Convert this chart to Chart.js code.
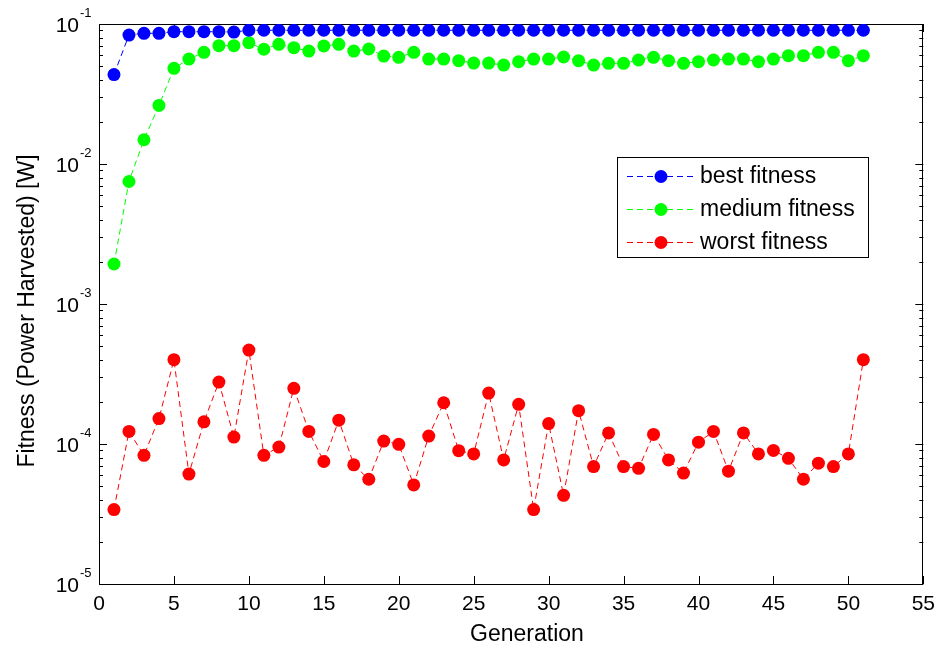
<!DOCTYPE html>
<html>
<head>
<meta charset="utf-8">
<script src="https://cdn.jsdelivr.net/npm/chart.js@4.4.1/dist/chart.umd.min.js"></script>
<style>
html,body{margin:0;padding:0;background:#ffffff;}
#wrap{width:943px;height:645px;position:relative;}
</style>
</head>
<body>
<div id="wrap"><canvas id="c" width="943" height="645"></canvas></div>
<script>
// ---------------- data ----------------
const generations = [1,2,3,4,5,6,7,8,9,10,11,12,13,14,15,16,17,18,19,20,21,22,23,24,25,26,27,28,29,30,31,32,33,34,35,36,37,38,39,40,41,42,43,44,45,46,47,48,49,50,51];
const bestFitness = [0.0435,0.0834,0.0858,0.0858,0.0881,0.0881,0.0881,0.0881,0.0875,0.0902,
  0.0902,0.0902,0.0902,0.0902,0.0902,0.0902,0.0902,0.0902,0.0902,0.0902,
  0.0902,0.0902,0.0902,0.0902,0.0902,0.0902,0.0902,0.0902,0.0902,0.0902,
  0.0902,0.0902,0.0902,0.0902,0.0902,0.0902,0.0902,0.0902,0.0902,0.0902,
  0.0902,0.0902,0.0902,0.0902,0.0902,0.0902,0.0902,0.0902,0.0902,0.0902,
  0.0902];
const mediumFitness = [0.00193,0.00750,0.0149,0.0262,0.0482,0.0562,0.0628,0.0700,0.0700,0.0736,
  0.0660,0.0716,0.0677,0.0641,0.0697,0.0716,0.0641,0.0663,0.0590,0.0578,
  0.0628,0.0562,0.0562,0.0547,0.0526,0.0526,0.0509,0.0538,0.0562,0.0562,
  0.0581,0.0547,0.0509,0.0524,0.0524,0.0553,0.0578,0.0547,0.0524,0.0538,
  0.0553,0.0562,0.0562,0.0538,0.0562,0.0594,0.0594,0.0628,0.0628,0.0547,
  0.0594];
const worstFitness = [3.4e-5,1.23e-4,8.3e-5,1.52e-4,4.0e-4,6.1e-5,1.44e-4,2.77e-4,1.12e-4,4.69e-4,
  8.3e-5,9.5e-5,2.5e-4,1.23e-4,7.5e-5,1.48e-4,7.1e-5,5.6e-5,1.05e-4,9.95e-5,
  5.1e-5,1.14e-4,1.97e-4,8.96e-5,8.5e-5,2.31e-4,7.7e-5,1.92e-4,3.4e-5,1.4e-4,
  4.3e-5,1.73e-4,6.9e-5,1.2e-4,6.9e-5,6.7e-5,1.17e-4,7.7e-5,6.2e-5,1.03e-4,
  1.23e-4,6.4e-5,1.2e-4,8.5e-5,9.0e-5,7.9e-5,5.6e-5,7.3e-5,6.9e-5,8.5e-5,
  4.0e-4];
const seriesNames = ['best fitness','medium fitness','worst fitness'];
const seriesColors = ['#0000ff','#00ff00','#ff0000'];
const xTicks = [0,5,10,15,20,25,30,35,40,45,50,55];
const yDecadeExponents = [-5,-4,-3,-2,-1];
const xTitle = 'Generation';
const yTitle = 'Fitness (Power Harvested) [W]';

// ---------------- chart ----------------
const FONT = "'Liberation Sans', Arial, Helvetica, sans-serif";
Chart.defaults.font.family = FONT;
Chart.defaults.color = '#000';

const toPoints = vals => vals.map((v,i) => ({x: generations[i], y: v}));
const allSeries = [bestFitness, mediumFitness, worstFitness];

const datasets = allSeries.map((vals, i) => ({
  label: seriesNames[i],
  data: toPoints(vals),
  borderColor: seriesColors[i],
  backgroundColor: seriesColors[i],
  borderWidth: 1,
  borderDash: [6,4],
  pointRadius: 6.5,
  pointHoverRadius: 6.5,
  pointBorderWidth: 0,
  pointBackgroundColor: seriesColors[i],
  tension: 0,
  fill: false
}));

const framePlugin = {
  id: 'matlabFrame',
  beforeDatasetsDraw(chart) {
    const {ctx, chartArea: a, scales: {x, y}} = chart;
    ctx.save();
    ctx.strokeStyle = '#000';
    ctx.lineWidth = 1;
    ctx.beginPath();
    xTicks.forEach(v => {
      const px = Math.round(x.getPixelForValue(v)) + 0.5;
      ctx.moveTo(px, a.bottom); ctx.lineTo(px, a.bottom - 8);
      ctx.moveTo(px, a.top); ctx.lineTo(px, a.top + 8);
    });
    yDecadeExponents.forEach((e, k) => {
      const base = Math.pow(10, e);
      const py = Math.round(y.getPixelForValue(base)) + 0.5;
      ctx.moveTo(a.left, py); ctx.lineTo(a.left + 8, py);
      ctx.moveTo(a.right, py); ctx.lineTo(a.right - 8, py);
      if (k < yDecadeExponents.length - 1) {
        for (let m = 2; m <= 9; m++) {
          const pm = Math.round(y.getPixelForValue(m * base)) + 0.5;
          ctx.moveTo(a.left, pm); ctx.lineTo(a.left + 4, pm);
          ctx.moveTo(a.right, pm); ctx.lineTo(a.right - 4, pm);
        }
      }
    });
    ctx.stroke();
    ctx.strokeRect(Math.round(a.left) + 0.5, Math.round(a.top) + 0.5,
                   Math.round(a.right - a.left) - 1, Math.round(a.bottom - a.top));
    ctx.restore();
  },
  afterDraw(chart) {
    const {ctx, chartArea: a, scales: {x, y}} = chart;
    ctx.save();
    ctx.fillStyle = '#000';
    // y decade labels 10^e
    yDecadeExponents.forEach(e => {
      const py = y.getPixelForValue(Math.pow(10, e));
      ctx.font = '21px ' + FONT;
      ctx.textAlign = 'right';
      ctx.textBaseline = 'alphabetic';
      ctx.fillText('10', 79, py + 8);
      ctx.font = '13px ' + FONT;
      ctx.textAlign = 'left';
      ctx.fillText(String(e), 80, py - 7);
    });
    // axis titles
    ctx.font = '23px ' + FONT;
    ctx.textAlign = 'center';
    ctx.textBaseline = 'alphabetic';
    ctx.fillText(xTitle, 527, 641);
    ctx.save();
    ctx.translate(34, 311);
    ctx.rotate(-Math.PI / 2);
    ctx.fillText(xTitle === '' ? '' : yTitle, 0, 0);
    ctx.restore();
    // legend
    const L = 617.5, T = 157.5, W = 251, H = 100;
    ctx.fillStyle = '#fff';
    ctx.fillRect(L, T, W, H);
    ctx.strokeStyle = '#000';
    ctx.lineWidth = 1;
    ctx.strokeRect(L, T, W, H);
    const rows = [176, 209, 242];
    chart.data.datasets.forEach((ds, i) => {
      const ry = rows[i] + 0.5;
      ctx.strokeStyle = ds.borderColor;
      ctx.setLineDash([6,4]);
      ctx.beginPath();
      ctx.moveTo(627, ry); ctx.lineTo(694, ry);
      ctx.stroke();
      ctx.setLineDash([]);
      ctx.fillStyle = ds.borderColor;
      ctx.beginPath();
      ctx.arc(661, ry, 6.5, 0, Math.PI * 2);
      ctx.fill();
      ctx.fillStyle = '#000';
      ctx.font = '23px ' + FONT;
      ctx.textAlign = 'left';
      ctx.textBaseline = 'middle';
      ctx.fillText(ds.label, 700, ry);
    });
    ctx.restore();
  }
};

new Chart(document.getElementById('c'), {
  type: 'line',
  data: { datasets },
  options: {
    responsive: false,
    animation: false,
    events: [],
    layout: { padding: { left: 0, top: 24, right: 18, bottom: 0 } },
    plugins: { legend: { display: false }, tooltip: { enabled: false } },
    scales: {
      x: {
        type: 'linear', min: 0, max: 55,
        grid: { display: false, drawTicks: false },
        border: { display: false },
        ticks: { stepSize: 5, autoSkip: false, maxRotation: 0, padding: 8,
                 font: { size: 21 }, color: '#000' },
        afterFit(s) { s.height = 61; }
      },
      y: {
        type: 'logarithmic', min: 1e-5, max: 1e-1,
        grid: { display: false, drawTicks: false },
        border: { display: false },
        ticks: { display: false },
        afterFit(s) { s.width = 99; }
      }
    }
  },
  plugins: [framePlugin]
});
</script>
</body>
</html>
